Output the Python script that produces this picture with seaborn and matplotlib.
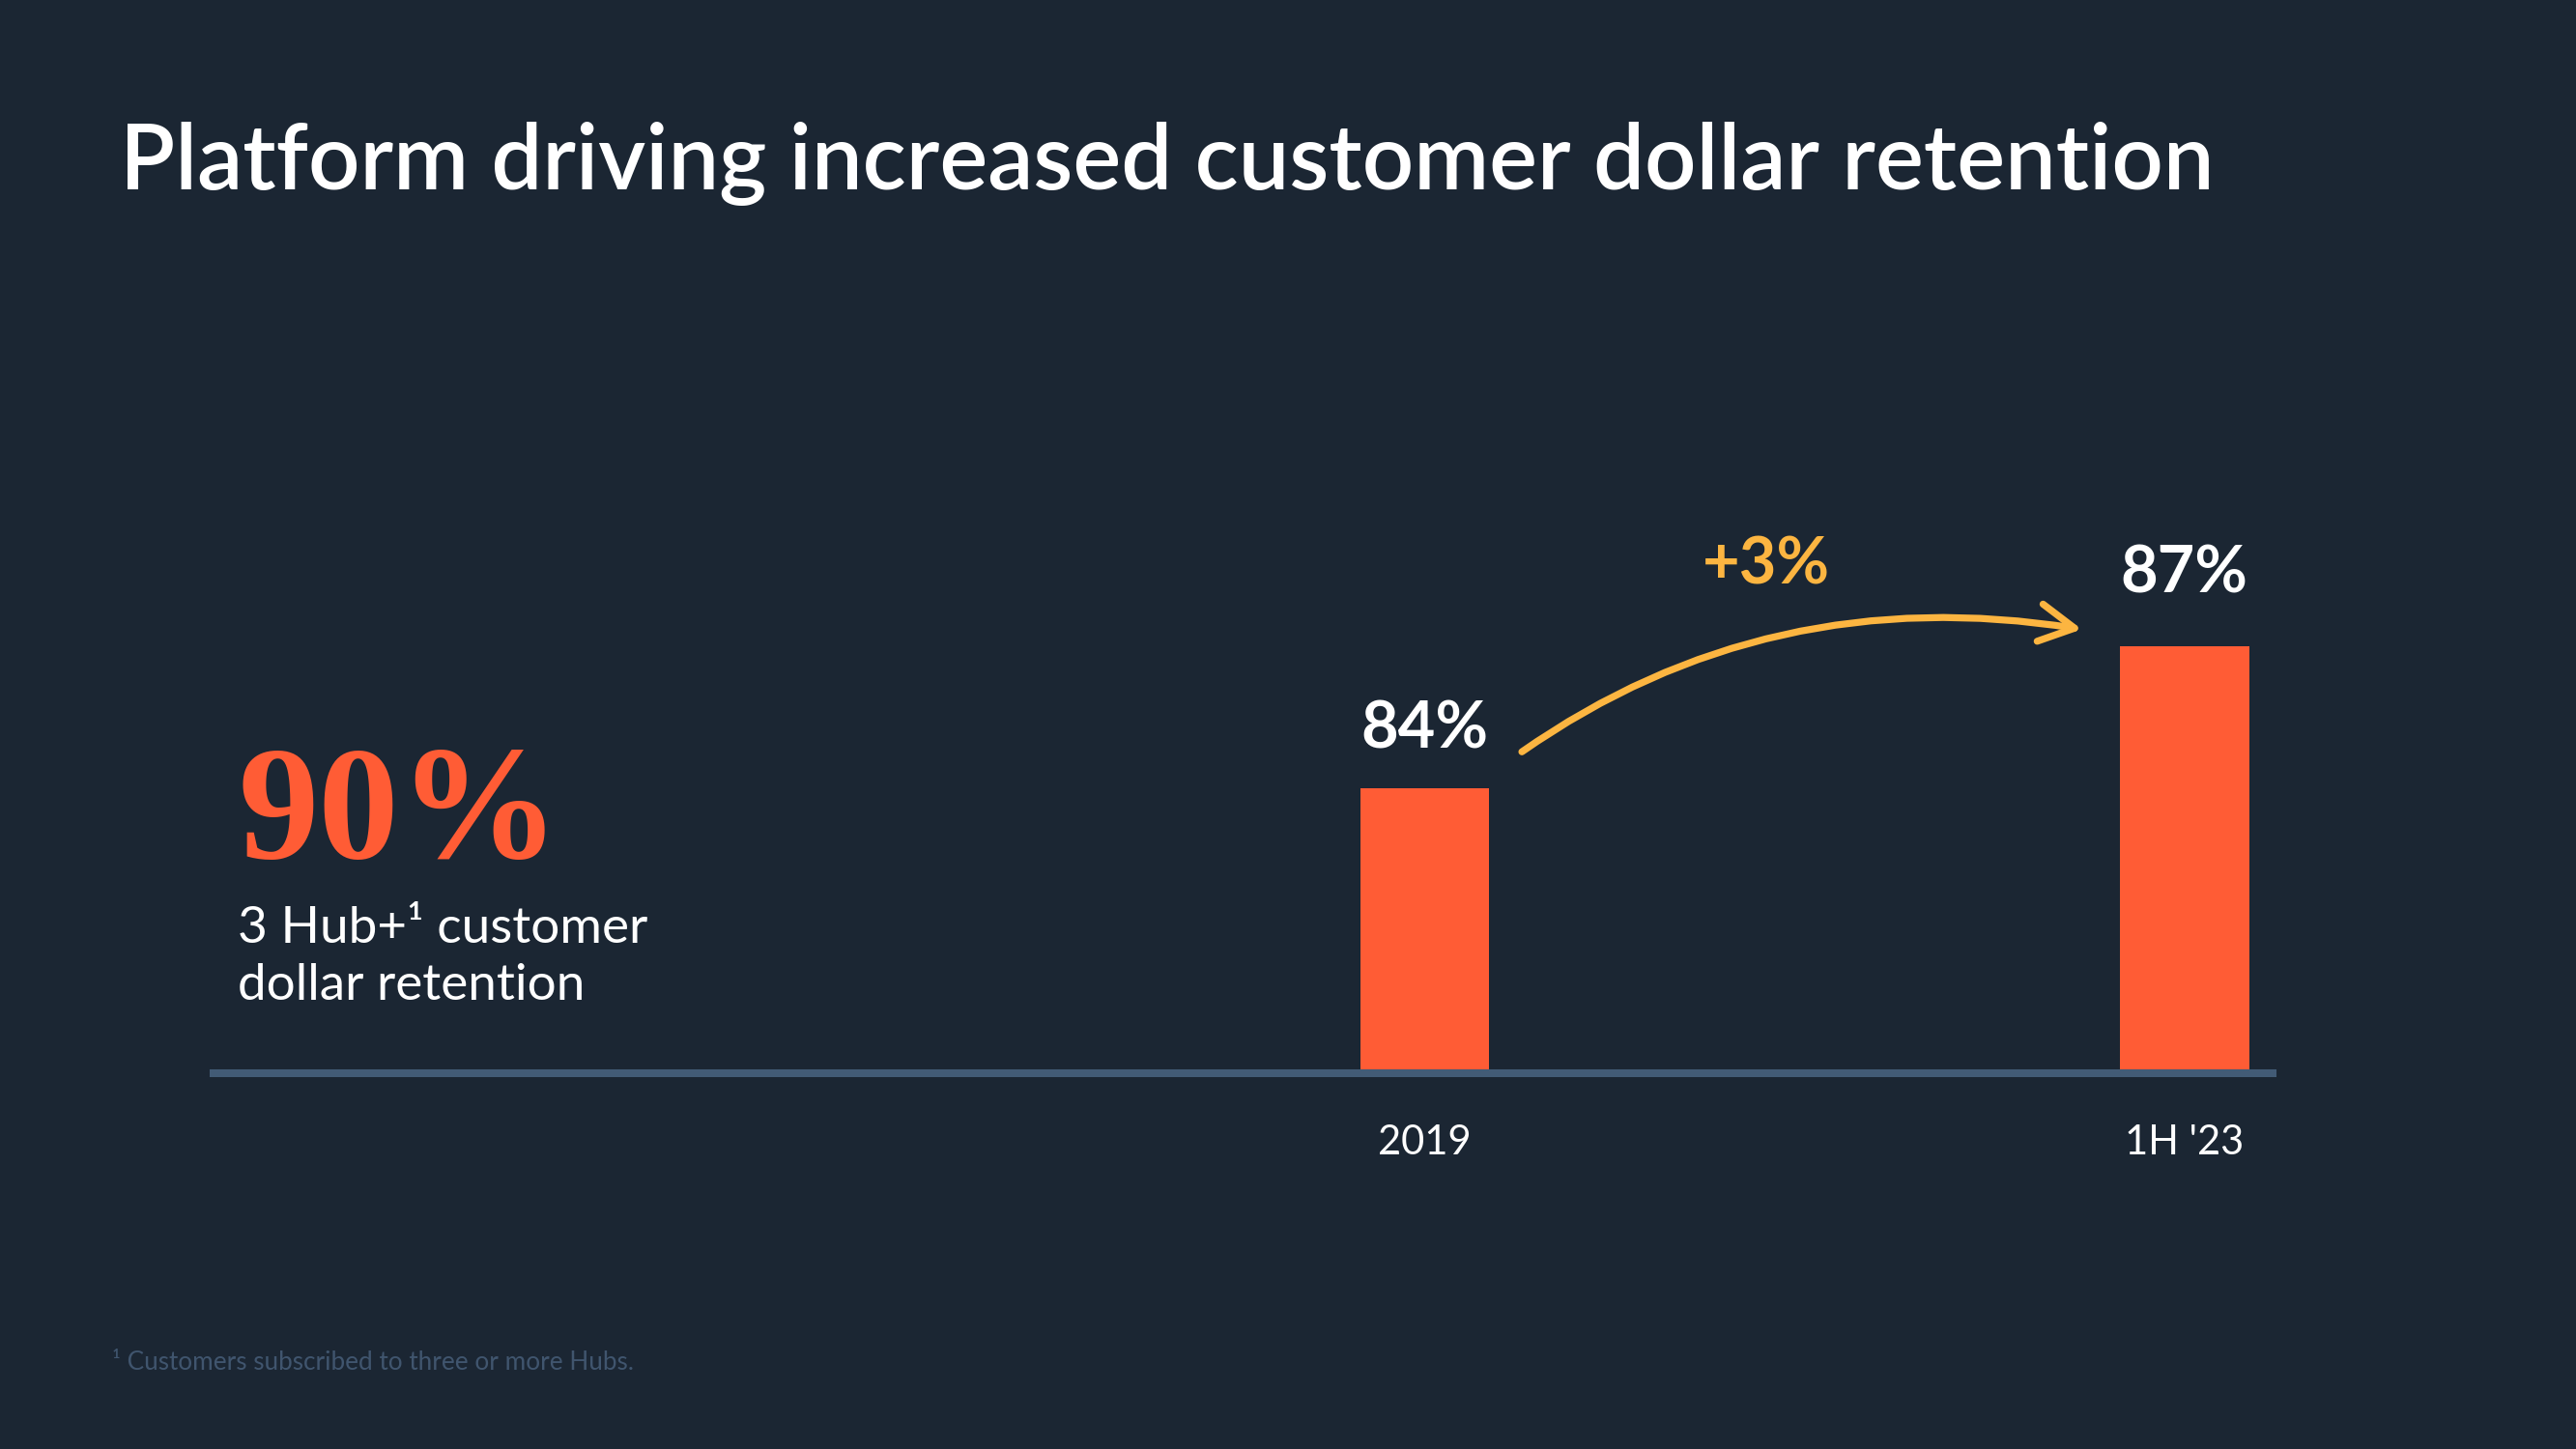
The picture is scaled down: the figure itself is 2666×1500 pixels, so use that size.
import matplotlib
matplotlib.use("Agg")
import matplotlib.pyplot as plt
import seaborn as sns
import pandas as pd

# -------------------------
# DATA
# -------------------------
periods = ["2019", "1H '23"]
retention = [84, 87]
change_label = "+3%"
headline_value = "90%"
headline_caption = ["3 Hub+\u00b9 customer", "dollar retention"]
title = "Platform driving increased customer dollar retention"
footnote = "\u00b9 Customers subscribed to three or more Hubs."

# -------------------------
# STYLE
# -------------------------
BG = "#1B2633"
ORANGE = "#FF5C35"
GOLD = "#FCB541"
SLATE = "#425B76"
FOOT = "#40556E"

sns.set_theme(style="white")
plt.rcParams["font.family"] = ["Lato", "DejaVu Sans"]

fig = plt.figure(figsize=(13.33, 7.5), dpi=200)
fig.patch.set_facecolor(BG)

ax = fig.add_axes([0.0829, 0.2593, 0.7993, 0.5407])
ax.set_facecolor(BG)

# -------------------------
# BARS
# -------------------------
df = pd.DataFrame({"period": periods, "retention": retention})
sns.barplot(data=df, x="period", y="retention", color=ORANGE,
            saturation=1, width=0.17, linewidth=0, edgecolor="none", ax=ax)

ax.set_xlim(-1.594, 1.116)
ax.set_ylim(78, 94.5)
ax.set_yticks([])
ax.set_xlabel("")
ax.set_ylabel("")

sns.despine(ax=ax, left=True)
ax.spines["bottom"].set_color(SLATE)
ax.spines["bottom"].set_linewidth(2.9)
ax.tick_params(axis="x", length=0, pad=19, labelsize=15, colors="white")
for lbl in ax.get_xticklabels():
    lbl.set_fontweight("normal")

# value labels
label_pad = [15, 20]
for i, v in enumerate(retention):
    ax.annotate(f"{v}%", xy=(i, v), xytext=(0, label_pad[i]),
                textcoords="offset points", ha="center", va="baseline",
                fontsize=24, fontweight="bold", color="white")

# change arrow
ax.annotate("", xy=(1 - 0.135, retention[1] + 0.35),
            xytext=(0.128, retention[0] + 0.77),
            arrowprops=dict(arrowstyle="->,head_length=0.65,head_width=0.35",
                            connectionstyle="angle3,angleA=35,angleB=-9",
                            color=GOLD, lw=2.6, shrinkA=0, shrinkB=0,
                            mutation_scale=20))
ax.text(0.45, retention[1] + 1.3, change_label, ha="center", va="baseline",
        fontsize=24, fontweight="bold", color=GOLD)

# -------------------------
# TEXT
# -------------------------
fig.text(0.0465, 0.8693, title, fontsize=33.8, fontweight="semibold",
         color="white", va="baseline")

fig.text(0.0923, 0.408, headline_value, family=["Liberation Serif", "DejaVu Serif"],
         fontweight="bold", fontsize=60, color=ORANGE, va="baseline")
fig.text(0.0923, 0.3493, headline_caption[0], fontsize=19.1,
         fontweight="normal", color="white", va="baseline")
fig.text(0.0923, 0.31, headline_caption[1], fontsize=19.1,
         fontweight="normal", color="white", va="baseline")

fig.text(0.0435, 0.0547, footnote, fontsize=9.4, color=FOOT, va="baseline")

fig.savefig("out.png", dpi=200, facecolor=BG)
